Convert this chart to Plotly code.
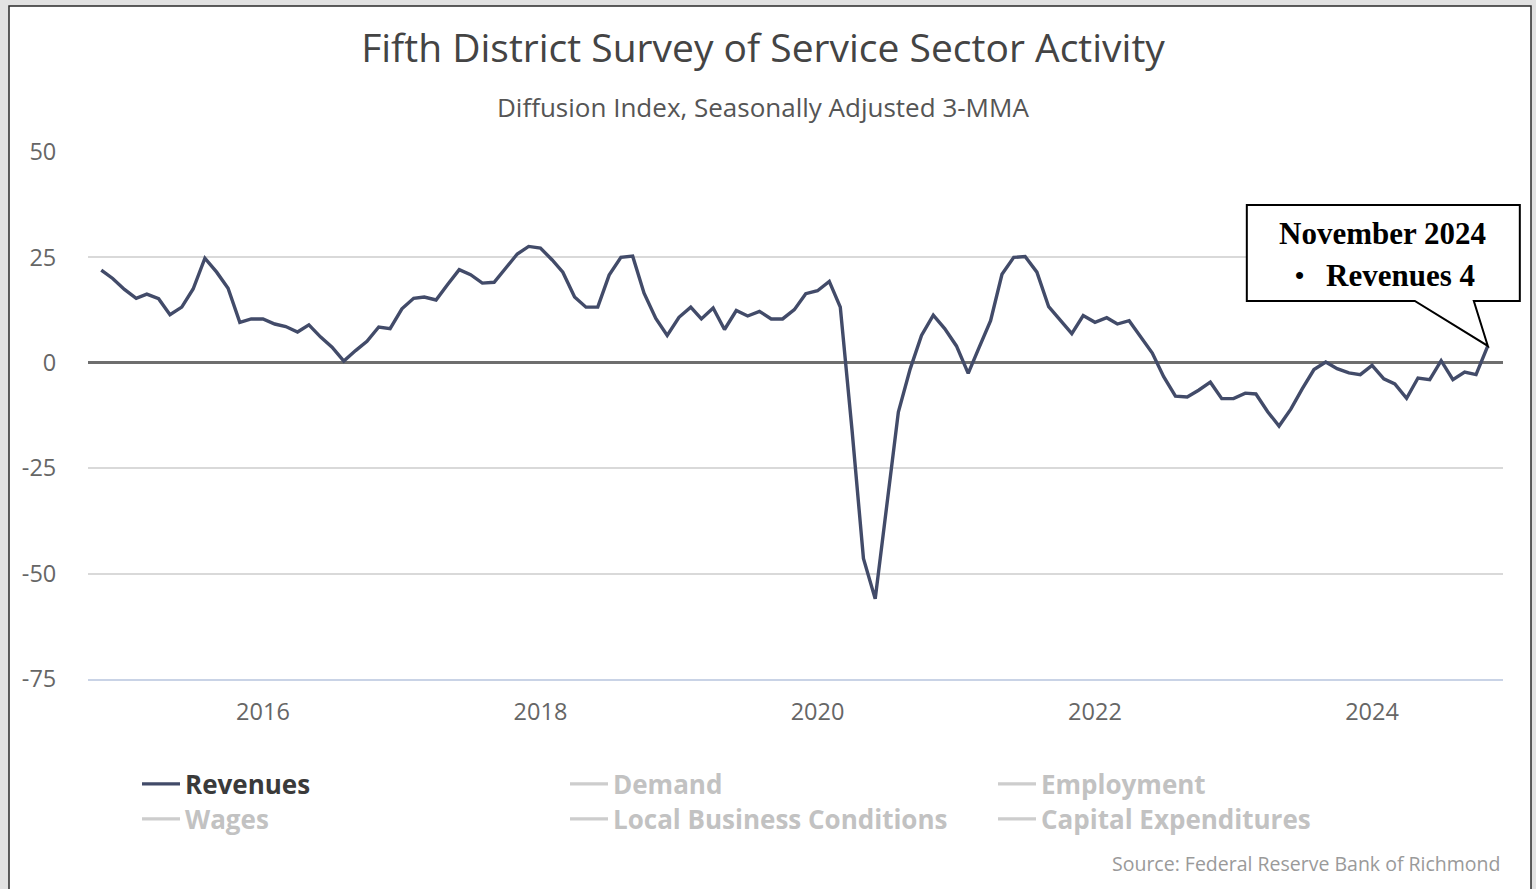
import pandas as pd
import plotly.graph_objects as go

# Revenues diffusion index (seasonally adjusted, 3-month moving average), monthly from Nov 2014
revenues = [
    22.0, 20.0, 17.4, 15.3, 16.3, 15.2, 11.4, 13.2, 17.5, 24.8, 21.5, 17.7,
    9.6, 10.4, 10.4, 9.2, 8.6, 7.3, 9.0, 6.1, 3.7, 0.4, 2.9, 5.1,
    8.5, 8.1, 12.8, 15.3, 15.6, 14.9, 18.5, 22.1, 20.9, 18.9, 19.1, 22.3,
    25.8, 27.6, 27.2, 24.4, 21.5, 15.6, 13.2, 13.2, 20.8, 25.0, 25.3, 16.5,
    10.5, 6.5, 10.8, 13.2, 10.4, 13.0, 7.9, 12.4, 11.1, 12.2, 10.4, 10.4,
    12.6, 16.4, 17.1, 19.3, 13.2, -16.0, -46.4, -56.0, -35.0, -11.7, -1.5, 6.5,
    11.3, 8.1, 4.0, -2.5, 3.5, 10.0, 21.0, 25.0, 25.2, 21.5, 13.3, 10.1,
    6.9, 11.2, 9.6, 10.7, 9.2, 10.0, 6.2, 2.3, -3.3, -7.9, -8.1, -6.5,
    -4.6, -8.5, -8.5, -7.2, -7.4, -11.6, -15.0, -11.0, -6.2, -1.6, 0.2, -1.4,
    -2.4, -2.8, -0.6, -3.8, -5.0, -8.4, -3.6, -4.0, 0.5, -4.0, -2.2, -2.8,
    4,
]
months = pd.date_range("2014-11-01", periods=len(revenues), freq="MS")

legend_row1 = ["Revenues", "Demand", "Employment"]
legend_row2 = ["Wages", "Local Business Conditions", "Capital Expenditures"]
y_ticks = [-75, -50, -25, 0, 25, 50]
y_ticktext = [str(v) for v in y_ticks]

X_RANGE = [pd.Timestamp("2014-09-27"), pd.Timestamp("2024-12-11")]
Y_RANGE = [-75, 50]

W, H = 1536, 889
L, R, T, B = 88, 33, 152, 210
PW, PH = W - L - R, H - T - B


def px(x):
    """Pixel column -> paper fraction."""
    return (x - L) / PW


def py(y):
    """Pixel row -> paper fraction."""
    return (H - B - y) / PH


LINE = "#424b69"
MUTED_LINE = "#cdcdcd"
MUTED_TEXT = "#c2c2c2"

fig = go.Figure()

for name in legend_row1 + legend_row2:
    leg = "legend" if name in legend_row1 else "legend2"
    if name == "Revenues":
        fig.add_trace(go.Scatter(
            x=months, y=revenues, mode="lines", name="<b>Revenues</b>",
            line=dict(color=LINE, width=3.4), legend=leg, hoverinfo="skip",
        ))
    else:
        fig.add_trace(go.Scatter(
            x=[None], y=[None], mode="lines",
            name=f"<b><span style='color:{MUTED_TEXT}'>{name}</span></b>",
            line=dict(color=MUTED_LINE, width=3.4), legend=leg, hoverinfo="skip",
        ))

legend_style = dict(
    orientation="h", xanchor="left", yanchor="middle",
    entrywidth=375, entrywidthmode="pixels", itemwidth=38,
    bgcolor="rgba(0,0,0,0)", borderwidth=0,
    font=dict(family="Open Sans", size=26, color="#3a3a3a"),
    itemclick=False, itemdoubleclick=False,
)

# Callout bubble anchored at the latest observation (pixel offsets from the point),
# placed in paper space so it may extend past the plot area
last_x, last_y = months[-1], revenues[-1]
anchor_px = (last_x - X_RANGE[0]) / (X_RANGE[1] - X_RANGE[0])
anchor_py = (last_y - Y_RANGE[0]) / (Y_RANGE[1] - Y_RANGE[0])
fig.add_shape(
    type="path", xref="paper", yref="paper",
    xsizemode="pixel", ysizemode="pixel",
    xanchor=anchor_px, yanchor=anchor_py,
    path="M-241,141 L32,141 L32,45 L-14,45 L0,0 L-73,45 L-241,45 Z",
    fillcolor="white", line=dict(color="black", width=2), layer="above",
)

# White card behind the chart
fig.add_shape(
    type="rect", xref="paper", yref="paper",
    x0=px(9), x1=px(1531), y0=py(900), y1=py(6),
    fillcolor="white", line=dict(color="#2a2a2a", width=1.5), layer="below",
)

serif = "Times New Roman, Liberation Serif, serif"
fig.add_annotation(
    x=last_x, y=last_y, xref="x", yref="y", showarrow=False,
    xshift=-105, yshift=112, xanchor="center", yanchor="middle",
    text=f"<b>{last_x.strftime('%B %Y')}</b>",
    font=dict(family=serif, size=31, color="black"),
)
fig.add_annotation(
    x=last_x, y=last_y, xref="x", yref="y", showarrow=False,
    xshift=-188, yshift=70, xanchor="center", yanchor="middle",
    text="<b>•</b>", font=dict(family=serif, size=26, color="black"),
)
fig.add_annotation(
    x=last_x, y=last_y, xref="x", yref="y", showarrow=False,
    xshift=-87, yshift=70, xanchor="center", yanchor="middle",
    text=f"<b>Revenues {last_y:g}</b>",
    font=dict(family=serif, size=31, color="black"),
)

fig.add_annotation(
    xref="paper", yref="paper", x=px(763), y=py(107), showarrow=False,
    xanchor="center", yanchor="middle",
    text="Diffusion Index, Seasonally Adjusted 3-MMA",
    font=dict(family="Open Sans", size=26, color="#555555"),
)
fig.add_annotation(
    xref="paper", yref="paper", x=px(1502), y=py(863), showarrow=False,
    xanchor="right", yanchor="middle",
    text="Source: Federal Reserve Bank of Richmond",
    font=dict(family="Open Sans", size=19.5, color="#9a9a9a"),
)

fig.update_layout(
    width=W, height=H,
    margin=dict(l=L, r=R, t=T, b=B, autoexpand=False),
    paper_bgcolor="#e2e2e2", plot_bgcolor="rgba(0,0,0,0)",
    title=dict(
        text="Fifth District Survey of Service Sector Activity",
        x=763 / W, xref="container", xanchor="center",
        y=1 - 48 / H, yref="container", yanchor="middle",
        font=dict(family="Open Sans", size=39, color="#444444"),
    ),
    legend=dict(x=px(137), y=py(784), **legend_style),
    legend2=dict(x=px(137), y=py(819), **legend_style),
    hovermode=False,
    xaxis=dict(
        type="date", range=[d.strftime("%Y-%m-%d") for d in X_RANGE],
        tick0="2016-01-01", dtick="M24", tickformat="%Y",
        showgrid=False, zeroline=False,
        showline=True, linecolor="#c9d3e6", linewidth=2,
        ticks="outside", ticklen=11, tickcolor="rgba(0,0,0,0)",
        tickfont=dict(family="Open Sans", size=23.5, color="#666666"),
        fixedrange=True,
    ),
    yaxis=dict(
        range=Y_RANGE, tickvals=y_ticks, ticktext=y_ticktext,
        showgrid=True, gridcolor="#d9d9d9", gridwidth=2,
        zeroline=True, zerolinecolor="#6e6e6e", zerolinewidth=2.5,
        ticks="outside", ticklen=26, tickcolor="rgba(0,0,0,0)",
        tickfont=dict(family="Open Sans", size=23.5, color="#666666"),
        fixedrange=True,
    ),
)

fig.write_html("out.html", config={"displayModeBar": False})
